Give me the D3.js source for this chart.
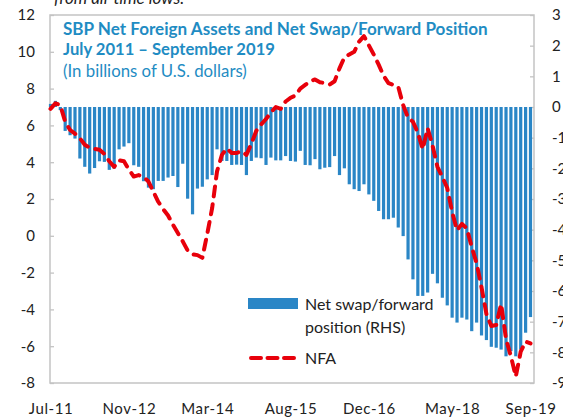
<html>
<head>
<meta charset="utf-8">
<script src="https://cdnjs.cloudflare.com/ajax/libs/d3/7.8.5/d3.min.js"></script>
<style>
  body { margin: 0; background: #fff; }
  text { font-family: Lato, "Open Sans", sans-serif; }
</style>
</head>
<body>
<script>
// monthly categories, Jul 2011 .. Sep 2019
const months = d3.timeMonths(new Date(2011, 6, 1), new Date(2019, 9, 1)).map(d3.timeFormat("%b-%y"));
const tickLabels = ["Jul-11", "Nov-12", "Mar-14", "Aug-15", "Dec-16", "May-18", "Sep-19"];
const leftTicks = [-8, -6, -4, -2, 0, 2, 4, 6, 8, 10, 12];
const rightTicks = [-9, -8, -7, -6, -5, -4, -3, -2, -1, 0, 1, 2, 3];

// net swap/forward position (RHS), billions USD
const swap = [0.1, 0.2, -0.1, -0.78, -0.92, -1.03, -1.68, -1.95, -2.17, -1.99,
  -1.77, -1.79, -2.05, -2.01, -1.38, -1.29, -1.18, -1.9, -1.95, -2.42,
  -2.63, -2.68, -2.41, -2.41, -2.3, -2.25, -2.61, -1.85, -2.99, -3.5,
  -2.66, -2.6, -2.36, -2.22, -1.38, -1.76, -1.76, -1.89, -1.88, -1.89,
  -2.22, -1.76, -1.65, -1.67, -1.89, -1.65, -1.74, -1.74, -1.6, -1.76,
  -1.78, -1.43, -1.89, -1.9, -1.7, -2.03, -1.98, -1.96, -1.6, -2.22,
  -2.0, -2.52, -2.68, -2.74, -2.52, -2.85, -3.06, -3.39, -3.66, -3.66,
  -3.61, -3.93, -4.21, -4.97, -5.62, -6.16, -6.16, -6.05, -5.44, -5.75,
  -6.22, -6.47, -6.87, -7.03, -6.87, -6.93, -7.31, -7.03, -7.45, -7.6,
  -7.82, -7.85, -7.91, -8.13, -7.96, -8.13, -7.91, -7.36, -6.85];

// SBP net foreign assets (LHS)
const nfa = [6.9, 7.2, 7.1, 6.2, 5.75, 5.55, 5.3, 4.95, 4.78, 4.72,
  4.68, 4.45, 4.05, 3.75, 4.1, 4.05, 3.6, 3.22, 3.3, 3.2,
  2.95, 2.4, 1.85, 1.45, 1.1, 0.6, 0.15, -0.3, -0.8, -1.0,
  -1.05, -1.2, 0.1, 1.5, 3.5, 4.4, 4.75, 4.5, 4.5, 4.6,
  4.4, 5.0, 5.7, 6.05, 6.35, 6.7, 7.0, 6.9, 7.3, 7.5,
  7.62, 8.0, 8.2, 8.4, 8.5, 8.35, 8.3, 8.22, 8.4, 9.1,
  9.7, 9.85, 10.0, 10.55, 10.85, 10.35, 9.85, 9.3, 8.7, 8.3,
  8.2, 8.1, 7.1, 6.42, 6.2, 5.6, 4.7, 5.85, 4.9, 3.75,
  3.2, 2.6, 1.3, 0.3, 0.65, 0.4, -0.6, -1.5, -2.8, -4.25,
  -4.9, -4.85, -3.7, -5.6, -6.55, -7.65, -6.3, -5.75, -5.85];

let W = 563, H = 417;
let mLeft = 50, mRight = 534, mTop = 15, mBottom = 383;

let svg = d3.select("body").append("svg")
  .attr("width", W)
  .attr("height", H);

let x = d3.scalePoint()
  .domain(months)
  .range([mLeft + 0.5, mRight - 3.5]);

let yL = d3.scaleLinear().domain([-8, 12]).range([mBottom, mTop]);
let yR = d3.scaleLinear().domain([-9, 3]).range([mBottom, mTop]);

// frame
svg.append("rect")
  .attr("x", mLeft).attr("y", mTop)
  .attr("width", mRight - mLeft).attr("height", mBottom - mTop)
  .attr("fill", "none")
  .attr("stroke", "#c3c3c3")
  .attr("stroke-width", 1.5);

// axes (plain hyphen for negatives, as in the source)
let fmt = d => String(d);
let gL = svg.append("g")
  .attr("transform", `translate(${mLeft},0)`)
  .call(d3.axisLeft(yL).tickValues(leftTicks).tickFormat(fmt).tickSize(-4).tickPadding(15));

let gR = svg.append("g")
  .attr("transform", `translate(${mRight},0)`)
  .call(d3.axisRight(yR).tickValues(rightTicks).tickFormat(fmt).tickSize(-4).tickPadding(18));

let gB = svg.append("g")
  .attr("transform", `translate(0,${mBottom})`)
  .call(d3.axisBottom(x).tickValues(tickLabels).tickSize(0).tickPadding(20));

[gL, gR, gB].forEach(g => {
  g.select(".domain").remove();
  g.selectAll("line").attr("stroke", "#c3c3c3").attr("stroke-width", 1.3);
  g.selectAll("text")
    .attr("fill", "#222")
    .style("font-size", "15px")
    .style("font-family", "Lato, sans-serif");
});
gB.selectAll("text").style("letter-spacing", "0.6px");

// bars (RHS)
let bw = 3.2;
svg.selectAll(".bar")
  .data(swap)
  .enter()
  .append("rect")
  .attr("class", "bar")
  .attr("fill", "#2a86c6")
  .attr("x", (d, i) => x(months[i]) - bw / 2)
  .attr("y", d => Math.min(yR(d), yR(0)))
  .attr("width", bw)
  .attr("height", d => Math.abs(yR(d) - yR(0)));

// NFA dashed line (LHS)
let line = d3.line()
  .x((d, i) => x(months[i]))
  .y(d => yL(d));

svg.append("path")
  .datum(nfa)
  .attr("d", line)
  .attr("fill", "none")
  .attr("stroke", "#e8000b")
  .attr("stroke-width", 4)
  .attr("stroke-dasharray", "10,8")
  .attr("stroke-linecap", "round")
  .attr("stroke-linejoin", "round");

// scrap of text above the chart
svg.append("text")
  .attr("x", 54).attr("y", 4)
  .attr("fill", "#222")
  .style("font-style", "italic")
  .style("font-size", "17px")
  .text("from all-time lows.");

// title
const blue = "#1f8cc3";
function fit(t, w) {
  let len = t.node().getComputedTextLength();
  let fs = parseFloat(t.style("font-size"));
  t.style("font-size", (fs * w / len) + "px");
}
let t1 = svg.append("text").attr("x", 63).attr("y", 35)
  .attr("fill", blue).style("font-weight", "bold").style("font-size", "16px")
  .text("SBP Net Foreign Assets and Net Swap/Forward Position");
fit(t1, 425);
let t2 = svg.append("text").attr("x", 63).attr("y", 55)
  .attr("fill", blue).style("font-weight", "bold").style("font-size", "16px")
  .text("July 2011 \u2013 September 2019");
fit(t2, 212);
let t3 = svg.append("text").attr("x", 63).attr("y", 77)
  .attr("fill", blue).style("font-size", "15px")
  .text("(In billions of U.S. dollars)");
fit(t3, 184);

// legend
svg.append("rect")
  .attr("x", 248).attr("y", 298)
  .attr("width", 50).attr("height", 11)
  .attr("fill", "#2a86c6");

svg.append("line")
  .attr("x1", 251).attr("x2", 296)
  .attr("y1", 358).attr("y2", 358)
  .attr("stroke", "#e8000b")
  .attr("stroke-width", 4)
  .attr("stroke-dasharray", "10,6.5")
  .attr("stroke-linecap", "round");

let legText = [["Net swap/forward", 310], ["position (RHS)", 333], ["NFA", 364]];
svg.selectAll(".leg")
  .data(legText)
  .enter()
  .append("text")
  .attr("class", "leg")
  .attr("x", 305)
  .attr("y", d => d[1])
  .attr("fill", "#222")
  .style("font-size", "16px")
  .text(d => d[0]);
</script>
</body>
</html>
